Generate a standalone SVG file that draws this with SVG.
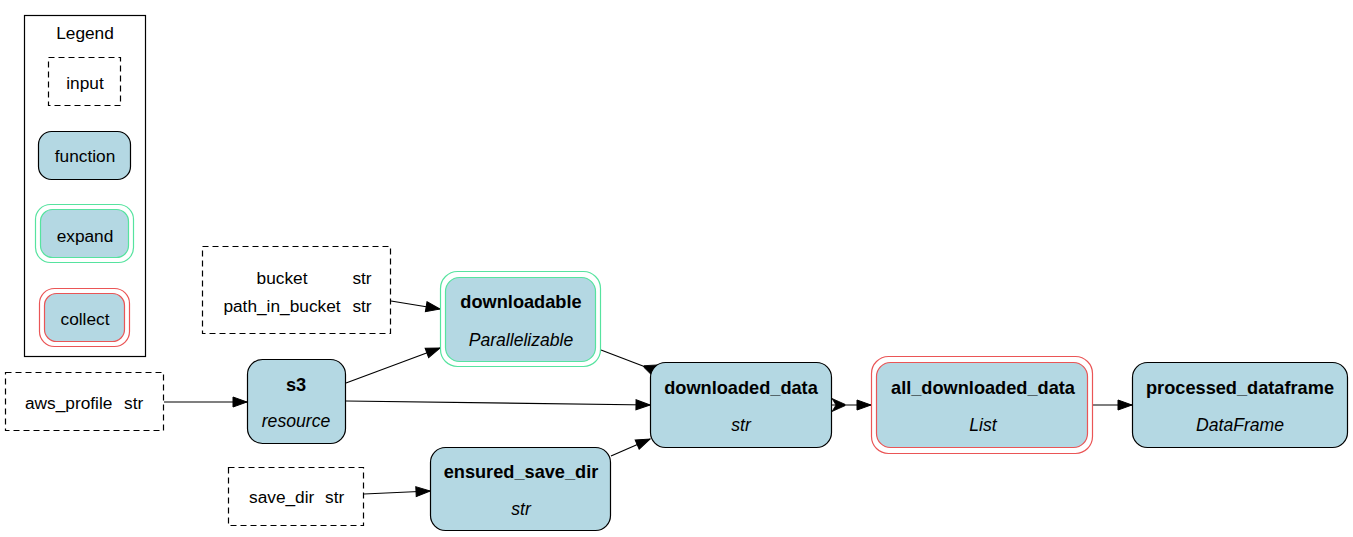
<svg xmlns="http://www.w3.org/2000/svg" width="1353" height="537" viewBox="0 0 1353 537">
<defs>
<style>
text{font-family:"Liberation Sans",Arial,Helvetica,sans-serif;font-size:17.3px;fill:#000;text-anchor:middle}
.l{text-anchor:start}
.b{font-weight:bold;font-size:18.2px}
.i{font-style:italic;font-size:17.6px}
.inp{fill:none;stroke:#000;stroke-width:1.2;stroke-dasharray:6,4}
.fn{fill:#b4d8e3;stroke:#000;stroke-width:1.2}
.exo{fill:none;stroke:#56e39f;stroke-width:1.2}
.exi{fill:#b4d8e3;stroke:#56e39f;stroke-width:1.2}
.coo{fill:none;stroke:#ea5556;stroke-width:1.2}
.coi{fill:#b4d8e3;stroke:#ea5556;stroke-width:1.2}
.e{fill:none;stroke:#000;stroke-width:1.2}
</style>
<marker id="arr" markerUnits="userSpaceOnUse" markerWidth="16" markerHeight="12" viewBox="-15 -6 16 12" refX="0" refY="0" orient="auto">
<path d="M-14,-5 L0,0 L-14,5 Z" fill="#000" stroke="#000"/>
</marker>
<marker id="crow" markerUnits="userSpaceOnUse" markerWidth="18" markerHeight="16" viewBox="-16 -8 18 16" refX="0" refY="0" orient="auto-start-reverse">
<path d="M0,-6.5 L-13,-0.7 L-13,0.7 L0,6.5 L-4,0 Z" fill="#000" stroke="#000" stroke-width="0.8"/>
</marker>
</defs>

<g id="legend">
<rect x="24.5" y="15.5" width="121" height="341" fill="none" stroke="#000" stroke-width="1.2"/>
<text x="85" y="39">Legend</text>
<rect class="inp" x="48.5" y="57.5" width="72" height="48"/>
<text x="85" y="89">input</text>
<rect class="fn" x="38.5" y="131.5" width="92" height="48" rx="13"/>
<text x="85" y="162">function</text>
<rect class="exo" x="35.5" y="204.5" width="98" height="58" rx="15"/>
<rect class="exi" x="40.5" y="209.5" width="88" height="48" rx="12"/>
<text x="85" y="242">expand</text>
<rect class="coo" x="39.5" y="288.5" width="90" height="58" rx="15"/>
<rect class="coi" x="44.5" y="293.5" width="80" height="48" rx="12"/>
<text x="85" y="325">collect</text>
</g>

<g id="connectors">
<path class="e" d="M164,402 L247,402" marker-end="url(#arr)"/>
<path class="e" d="M346,383 L440,348" marker-end="url(#arr)"/>
<path class="e" d="M346,401 L650,405" marker-end="url(#arr)"/>
<path class="e" d="M391,301 L440,309" marker-end="url(#arr)"/>
<path class="e" d="M364,494 L430,491" marker-end="url(#arr)"/>
<path class="e" d="M611,456 L650,439" marker-end="url(#arr)"/>
<path class="e" d="M601,350 L656,371" marker-end="url(#crow)"/>
<path class="e" d="M832,405 L871,405" marker-start="url(#crow)" marker-end="url(#arr)"/>
<path class="e" d="M1093,405 L1132,405" marker-end="url(#arr)"/>
</g>

<g id="aws_profile">
<rect class="inp" x="5.5" y="372.5" width="158" height="58"/>
<text class="l" x="25" y="409">aws_profile</text>
<text class="l" x="124" y="409">str</text>
</g>

<g id="bucket_inputs">
<rect class="inp" x="202.5" y="246.5" width="188" height="87"/>
<text x="282" y="284">bucket</text>
<text x="362" y="284">str</text>
<text x="282" y="312">path_in_bucket</text>
<text x="362" y="312">str</text>
</g>

<g id="save_dir">
<rect class="inp" x="228.5" y="467.5" width="135" height="58"/>
<text class="l" x="249" y="503">save_dir</text>
<text class="l" x="325" y="503">str</text>
</g>

<g id="s3">
<rect class="fn" x="247.5" y="359.5" width="98" height="84" rx="15"/>
<text class="b" x="296" y="391">s3</text>
<text class="i" x="296" y="427">resource</text>
</g>

<g id="downloadable">
<rect class="exo" x="440.5" y="271.5" width="160" height="95" rx="17"/>
<rect class="exi" x="445.5" y="277.5" width="150" height="84" rx="14"/>
<text class="b" x="521" y="308">downloadable</text>
<text class="i" x="521" y="346">Parallelizable</text>
</g>

<g id="ensured_save_dir">
<rect class="fn" x="430.5" y="447.5" width="180" height="83" rx="15"/>
<text class="b" x="521" y="478">ensured_save_dir</text>
<text class="i" x="521" y="515">str</text>
</g>

<g id="downloaded_data">
<rect class="fn" x="650.5" y="362.5" width="181" height="85" rx="15"/>
<text class="b" x="741" y="394">downloaded_data</text>
<text class="i" x="741" y="431">str</text>
</g>

<g id="all_downloaded_data">
<rect class="coo" x="871.5" y="356.5" width="221" height="97" rx="17"/>
<rect class="coi" x="876.5" y="362.5" width="211" height="85" rx="14"/>
<text class="b" x="983" y="394">all_downloaded_data</text>
<text class="i" x="983" y="431">List</text>
</g>

<g id="processed_dataframe">
<rect class="fn" x="1132.5" y="362.5" width="215" height="85" rx="15"/>
<text class="b" x="1240" y="394">processed_dataframe</text>
<text class="i" x="1240" y="431">DataFrame</text>
</g>
</svg>
